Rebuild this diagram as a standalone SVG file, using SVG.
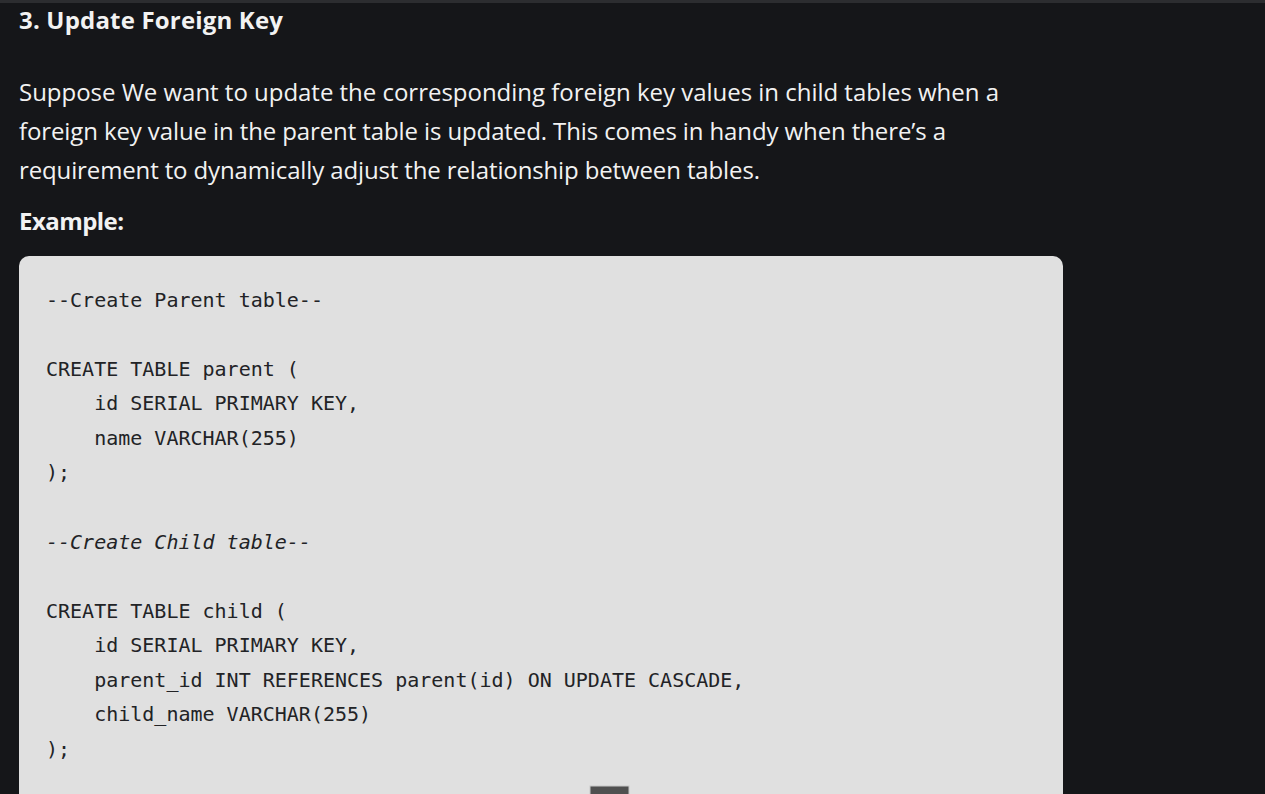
<svg xmlns="http://www.w3.org/2000/svg" width="1265" height="794" viewBox="0 0 1265 794">
<style>
.bg{fill:#151619}
.p{font-family:"Open Sans","Noto Sans",sans-serif;font-size:24px;fill:#f2f2f2}
.b{font-weight:700}
.code{fill:#e0e0e0}
.c{font-family:"DejaVu Sans Mono","Liberation Mono",monospace;font-size:20px;fill:#222326;white-space:pre}
.i{font-style:italic}
</style>
<rect class="bg" x="0" y="0" width="1265" height="794"/>
<rect x="0" y="0" width="1265" height="3" fill="#2c2d30"/>
<g id="heading">
<text class="p b" x="19" y="29" textLength="264" lengthAdjust="spacing">3. Update Foreign Key</text>
</g>
<g id="paragraph">
<text class="p" x="19" y="101" textLength="980" lengthAdjust="spacing">Suppose We want to update the corresponding foreign key values in child tables when a</text>
<text class="p" x="19" y="140" textLength="927" lengthAdjust="spacing">foreign key value in the parent table is updated. This comes in handy when there’s a</text>
<text class="p" x="19" y="179" textLength="741" lengthAdjust="spacing">requirement to dynamically adjust the relationship between tables.</text>
</g>
<g id="example-label">
<text class="p b" x="19" y="230" textLength="105" lengthAdjust="spacing">Example:</text>
</g>
<g id="code-block">
<path class="code" d="M29,256 H1053 A10,10 0 0 1 1063,266 V794 H19 V266 A10,10 0 0 1 29,256 Z"/>
<text class="c" x="46" y="307">--Create Parent table--</text>
<text class="c" x="46" y="376">CREATE TABLE parent (</text>
<text class="c" x="46" y="410">    id SERIAL PRIMARY KEY,</text>
<text class="c" x="46" y="445">    name VARCHAR(255)</text>
<text class="c" x="46" y="479">);</text>
<text class="c i" x="46" y="549">--Create Child table--</text>
<text class="c" x="46" y="618">CREATE TABLE child (</text>
<text class="c" x="46" y="652">    id SERIAL PRIMARY KEY,</text>
<text class="c" x="46" y="687">    parent_id INT REFERENCES parent(id) ON UPDATE CASCADE,</text>
<text class="c" x="46" y="721">    child_name VARCHAR(255)</text>
<text class="c" x="46" y="756">);</text>
<rect x="590" y="786" width="39" height="10" fill="#505050" stroke="#c8c8c8" stroke-width="1"/>
</g>
</svg>
